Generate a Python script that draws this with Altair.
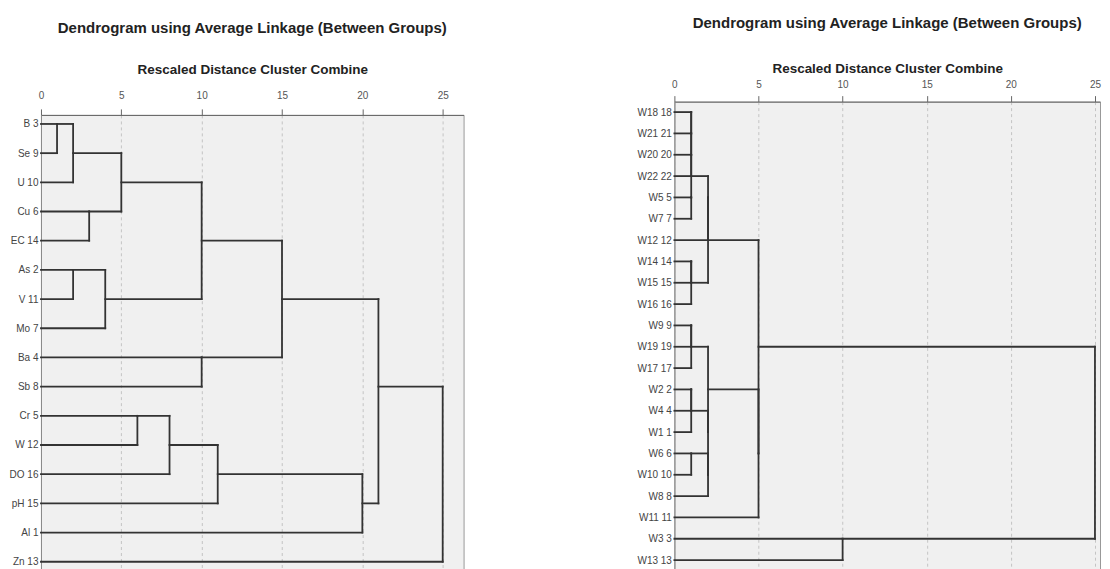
import altair as alt
import pandas as pd

title_main = "Dendrogram using Average Linkage (Between Groups)"
title_sub = "Rescaled Distance Cluster Combine"
x_ticks = [0, 5, 10, 15, 20, 25]

# Left dendrogram (variables)
left_labels = ["B 3", "Se 9", "U 10", "Cu 6", "EC 14", "As 2", "V 11", "Mo 7",
               "Ba 4", "Sb 8", "Cr 5", "W 12", "DO 16", "pH 15", "Al 1", "Zn 13"]
# merges: clusters numbered after the leaves (scipy style)
left_merge_a = [0, 16, 3, 17, 5, 20, 19, 8, 22, 10, 25, 26, 27, 24, 29]
left_merge_b = [1, 2, 4, 18, 6, 7, 21, 9, 23, 11, 12, 13, 14, 28, 15]
left_heights = [1, 2, 3, 5, 2, 4, 10, 10, 15, 6, 8, 11, 20, 21, 25]

# Right dendrogram (sites)
right_labels = ["W18 18", "W21 21", "W20 20", "W22 22", "W5 5", "W7 7", "W12 12",
                "W14 14", "W15 15", "W16 16", "W9 9", "W19 19", "W17 17", "W2 2",
                "W4 4", "W1 1", "W6 6", "W10 10", "W8 8", "W11 11", "W3 3", "W13 13"]
right_merge_a = [0, 22, 23, 4, 24, 7, 27, 26, 29, 10, 31, 13, 33, 16, 35, 34, 32, 38, 30, 20, 40]
right_merge_b = [1, 2, 3, 5, 25, 8, 9, 6, 28, 11, 12, 14, 15, 17, 18, 36, 37, 19, 39, 21, 41]
right_heights = [1, 1, 1, 1, 1, 1, 1, 2, 2, 1, 1, 1, 1, 1, 2, 2, 2, 5, 5, 10, 25]

FONT = "Liberation Sans"


def segments(labels, a_list, b_list, heights):
    n = len(labels)
    row = list(range(n))
    h = [0.0] * n
    segs = []
    for a, b, ht in zip(a_list, b_list, heights):
        ra, rb = row[a], row[b]
        segs.append(dict(x=ht, x2=ht, y=ra, y2=rb))
        segs.append(dict(x=h[a], x2=ht, y=ra, y2=ra))
        segs.append(dict(x=h[b], x2=ht, y=rb, y2=rb))
        row.append((ra + rb) // 2)
        h.append(ht)
    return pd.DataFrame(segs)


def panel(labels, a_list, b_list, heights, width, height, xmax, ytop, ybot,
          offset, axis_title_pad, label_pad):
    df = segments(labels, a_list, b_list, heights)
    label_expr = "[" + ",".join("'%s'" % l for l in labels) + "][datum.value]"
    x_axis = alt.Axis(orient="top", values=x_ticks, grid=True, gridDash=[3, 3],
                      gridColor="#c4c4c4", gridWidth=1, tickSize=6, tickColor="#666",
                      domainColor="#666", labelFont=FONT, labelFontSize=10,
                      labelColor="#555", labelPadding=label_pad, labelFlush=False,
                      title=title_sub, titleFont=FONT, titleFontSize=13.5,
                      titleFontWeight="bold", titleColor="#222",
                      titlePadding=axis_title_pad)
    y_axis = alt.Axis(values=list(range(len(labels))), labelExpr=label_expr, ticks=False,
                      grid=False, domainColor="#8a8a8a", labelFont=FONT,
                      labelFontSize=10, labelColor="#444", labelPadding=3, title=None)
    chart = alt.Chart(df).mark_rule(color="#333", strokeWidth=1.8, strokeCap="square").encode(
        x=alt.X("x:Q", scale=alt.Scale(domain=[0, xmax], nice=False, zero=False), axis=x_axis),
        x2="x2:Q",
        y=alt.Y("y:Q", scale=alt.Scale(domain=[ytop, ybot], nice=False, zero=False, reverse=True),
                axis=y_axis),
        y2="y2:Q",
    ).properties(
        width=width, height=height,
        title=alt.TitleParams(text=title_main, frame="group", anchor="middle", font=FONT,
                              fontSize=15, fontWeight="bold", color="#222", offset=offset),
    )
    return chart


left = panel(left_labels, left_merge_a, left_merge_b, left_heights,
             423, 456, 26.3, -0.31, 15.3, 27, 14, 8)
right = panel(right_labels, right_merge_a, right_merge_b, right_heights,
              426, 482.6, 25.3, -0.49, 22.11, 31, 4, 6)

chart = alt.hconcat(left, right, spacing=172, center=True).configure_view(
    fill="#f0f0f0", stroke="#999", strokeWidth=1
).properties(padding={"left": 0, "top": 6, "right": 0, "bottom": 0})

chart.save("out.html", embed_options={"renderer": "svg", "actions": False})
